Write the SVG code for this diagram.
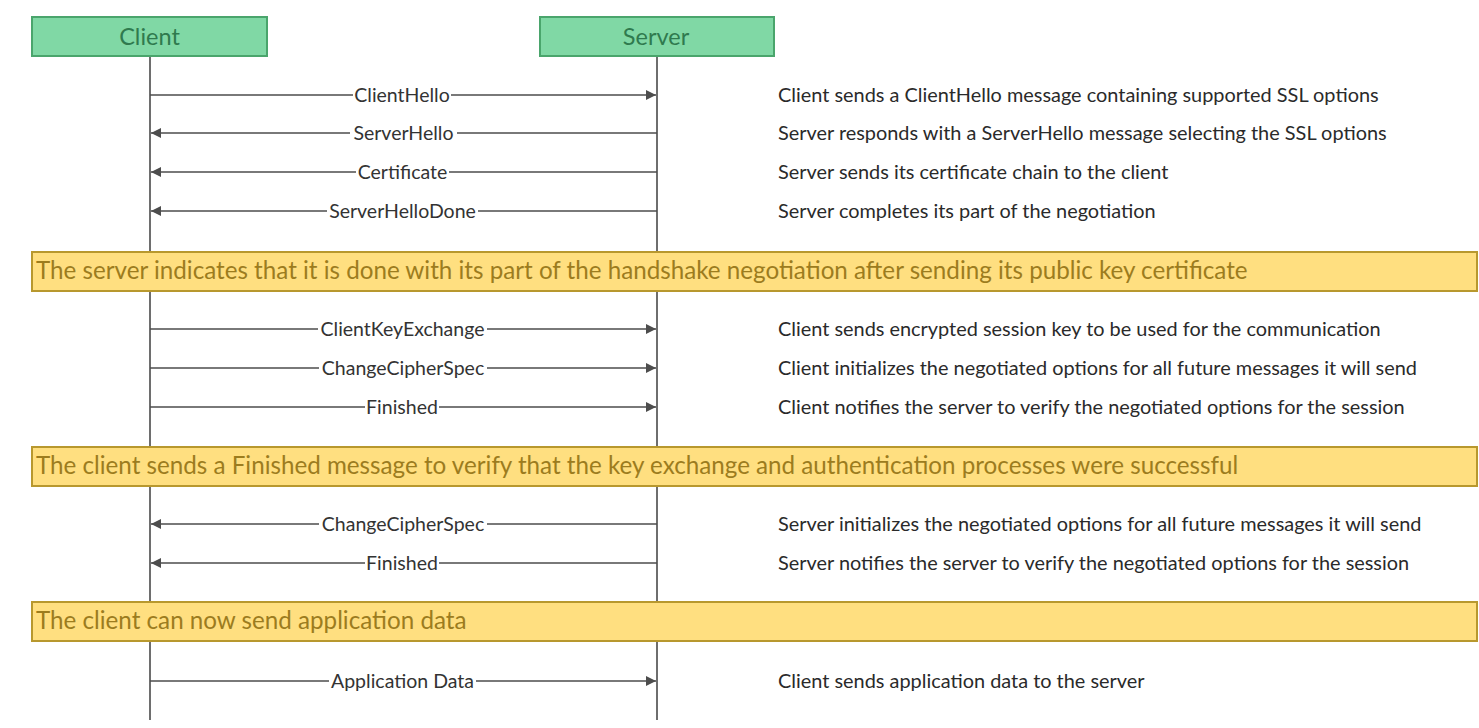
<svg xmlns="http://www.w3.org/2000/svg" width="1479" height="728" viewBox="0 0 1479 728">
<defs>
<style>
.actor rect{fill:#80d8a5;stroke:#4aa56c;stroke-width:2}
.actor text{font-family:Lato,"Liberation Sans",sans-serif;font-size:23.5px;fill:#2f7a4e;text-anchor:middle}
.life{stroke:#6e6e6e;stroke-width:2}
.msg line{stroke:#4d4d4d;stroke-width:1.5}
.lbl{font-family:Lato,"Liberation Sans",sans-serif;font-size:19.5px;fill:#333;text-anchor:middle}
.lblbg{fill:#fff}
.desc{font-family:Lato,"Liberation Sans",sans-serif;font-size:19.9px;fill:#2a2a2a}
.banner rect{fill:#ffdf80;stroke:#b8982e;stroke-width:2}
.banner text{font-family:Lato,"Liberation Sans",sans-serif;font-size:24.2px;fill:#9c7c1e}
</style>
<marker id="ah" viewBox="0 0 10 10" refX="10" refY="5" markerWidth="12" markerHeight="10" markerUnits="userSpaceOnUse" orient="auto">
<path d="M0,0 L10,5 L0,10 z" fill="#4d4d4d"/>
</marker>
</defs>
<rect width="1479" height="728" fill="#fff"/>
<g id="lifelines">
<line class="life" x1="150" y1="56" x2="150" y2="720"/>
<line class="life" x1="657" y1="56" x2="657" y2="720"/>
</g>
<g id="client" class="actor"><rect x="32" y="17" width="235" height="39"/><text x="149.5" y="44.5">Client</text></g>
<g id="server" class="actor"><rect x="540" y="17" width="234" height="39"/><text x="656" y="44.5">Server</text></g>
<g id="connectors">
<g class="msg"><line x1="150" y1="95" x2="656" y2="95" marker-end="url(#ah)"/></g>
<g class="msg"><line x1="657" y1="133" x2="151" y2="133" marker-end="url(#ah)"/></g>
<g class="msg"><line x1="657" y1="172" x2="151" y2="172" marker-end="url(#ah)"/></g>
<g class="msg"><line x1="657" y1="211" x2="151" y2="211" marker-end="url(#ah)"/></g>
<g class="msg"><line x1="150" y1="329" x2="656" y2="329" marker-end="url(#ah)"/></g>
<g class="msg"><line x1="150" y1="368" x2="656" y2="368" marker-end="url(#ah)"/></g>
<g class="msg"><line x1="150" y1="407" x2="656" y2="407" marker-end="url(#ah)"/></g>
<g class="msg"><line x1="657" y1="524" x2="151" y2="524" marker-end="url(#ah)"/></g>
<g class="msg"><line x1="657" y1="563" x2="151" y2="563" marker-end="url(#ah)"/></g>
<g class="msg"><line x1="150" y1="681" x2="656" y2="681" marker-end="url(#ah)"/></g>
</g>
<g id="labels">
<rect class="lblbg" x="353" y="86" width="98" height="18"/><text class="lbl" x="402" y="101.5">ClientHello</text>
<rect class="lblbg" x="350" y="124" width="107" height="18"/><text class="lbl" x="403.5" y="139.5">ServerHello</text>
<rect class="lblbg" x="356" y="163" width="93" height="18"/><text class="lbl" x="402.5" y="178.5">Certificate</text>
<rect class="lblbg" x="327" y="202" width="151" height="18"/><text class="lbl" x="402.5" y="217.5">ServerHelloDone</text>
<rect class="lblbg" x="318" y="320" width="169" height="18"/><text class="lbl" x="402.5" y="335.5">ClientKeyExchange</text>
<rect class="lblbg" x="319" y="359" width="168" height="18"/><text class="lbl" x="403" y="374.5">ChangeCipherSpec</text>
<rect class="lblbg" x="365" y="398" width="74" height="18"/><text class="lbl" x="402" y="413.5">Finished</text>
<rect class="lblbg" x="319" y="515" width="168" height="18"/><text class="lbl" x="403" y="530.5">ChangeCipherSpec</text>
<rect class="lblbg" x="365" y="554" width="74" height="18"/><text class="lbl" x="402" y="569.5">Finished</text>
<rect class="lblbg" x="329" y="672" width="147" height="18"/><text class="lbl" x="402.5" y="687.5">Application Data</text>
</g>
<g id="descriptions">
<text class="desc" x="778" y="101.5">Client sends a ClientHello message containing supported SSL options</text>
<text class="desc" x="778" y="139.5">Server responds with a ServerHello message selecting the SSL options</text>
<text class="desc" x="778" y="178.5">Server sends its certificate chain to the client</text>
<text class="desc" x="778" y="217.5">Server completes its part of the negotiation</text>
<text class="desc" x="778" y="335.5">Client sends encrypted session key to be used for the communication</text>
<text class="desc" x="778" y="374.5">Client initializes the negotiated options for all future messages it will send</text>
<text class="desc" x="778" y="413.5">Client notifies the server to verify the negotiated options for the session</text>
<text class="desc" x="778" y="530.5">Server initializes the negotiated options for all future messages it will send</text>
<text class="desc" x="778" y="569.5">Server notifies the server to verify the negotiated options for the session</text>
<text class="desc" x="778" y="687.5">Client sends application data to the server</text>
</g>
<g id="banner1" class="banner"><rect x="32" y="252" width="1445" height="39"/><text x="36" y="279">The server indicates that it is done with its part of the handshake negotiation after sending its public key certificate</text></g>
<g id="banner2" class="banner"><rect x="32" y="447" width="1445" height="39"/><text x="36" y="474">The client sends a Finished message to verify that the key exchange and authentication processes were successful</text></g>
<g id="banner3" class="banner"><rect x="32" y="602" width="1445" height="39"/><text x="36" y="629">The client can now send application data</text></g>
</svg>
